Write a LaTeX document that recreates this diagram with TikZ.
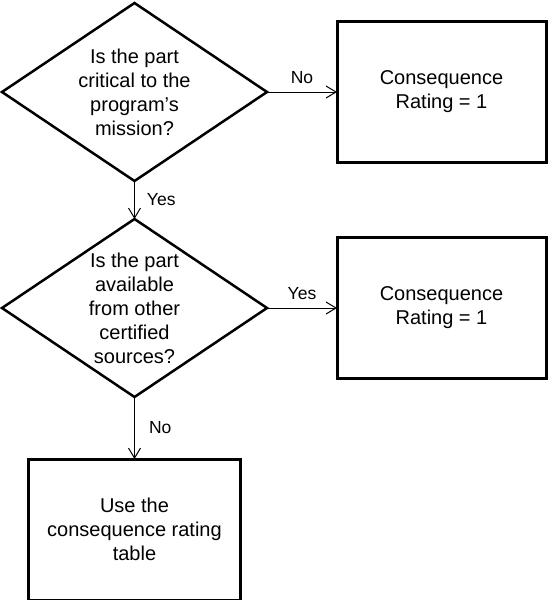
\documentclass[tikz,border=0pt]{standalone}
\usepackage{fontspec}
\setmainfont{Liberation Sans}
\usepackage{tikz}
\usetikzlibrary{shapes.geometric,positioning,arrows.meta}

\begin{document}
\begin{tikzpicture}[
    node distance=38pt,
    decision/.style={diamond, draw, line width=2.5pt, shape aspect=1.49, minimum width=265pt, minimum height=178pt, inner sep=0pt, outer sep=0pt, align=center, font=\fontsize{20}{24}\selectfont},
    result/.style={rectangle, draw, line width=3pt, minimum width=209pt, minimum height=141pt, outer sep=0pt, align=center, font=\fontsize{20}{24}\selectfont},
    answer/.style={inner sep=0pt, font=\fontsize{17.5}{21}\selectfont},
    arrow/.style={-{Straight Barb[length=10pt, width=12pt]}, line width=1pt}
]
    \useasboundingbox (-134.5pt,-508pt) rectangle (412.5pt,92pt);

    \node[decision] (critical) {Is the part\\critical to the\\program’s\\mission?};
    \node[result, right=70pt of critical] (rating1) {Consequence\\Rating = 1};

    \node[decision, below=of critical] (available) {Is the part\\available\\from other\\certified\\sources?};
    \node[result, right=70pt of available] (rating2) {Consequence\\Rating = 1};

    \node[result, below=62pt of available, minimum width=211pt] (table) {Use the\\consequence rating\\table};

    \draw[arrow] (critical) -- node[answer, midway, above=8pt] {No} (rating1);
    \draw[arrow] (critical) -- node[answer, midway, right=12pt] {Yes} (available);
    \draw[arrow] (available) -- node[answer, midway, above=8pt] {Yes} (rating2);
    \draw[arrow] (available) -- node[answer, midway, right=14pt] {No} (table);
\end{tikzpicture}
\end{document}
